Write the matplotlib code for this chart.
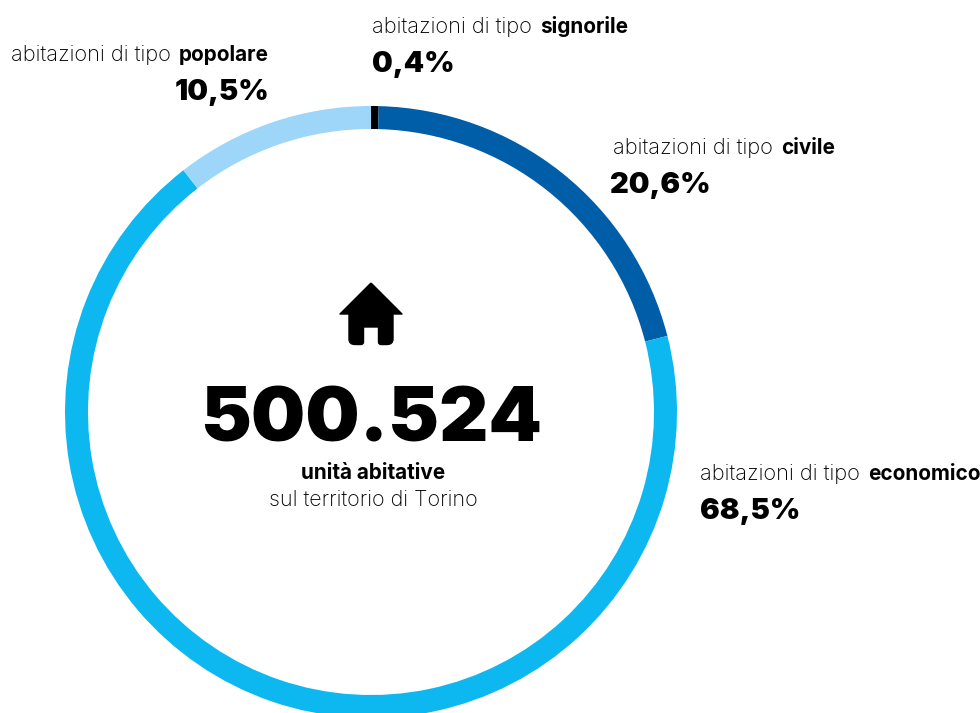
import matplotlib
matplotlib.use("Agg")
import matplotlib.pyplot as plt
from matplotlib.path import Path
from matplotlib.patches import PathPatch

categories = ["signorile", "civile", "economico", "popolare"]
shares = [0.4, 20.6, 68.5, 10.5]
share_labels = ["0,4%", "20,6%", "68,5%", "10,5%"]
colors = ["#000000", "#005da8", "#0db8f0", "#9dd6f8"]
total_label = "500.524"

W, H = 980, 713
FONT = "Inter"
LIGHT_SIZE = 15.7
BOLD_SIZE = 14.9
GAP = 8

fig = plt.figure(figsize=(W / 100, H / 100), dpi=100)
ax = fig.add_axes([0, 0, 1, 1])

# ring, clockwise from twelve o'clock
ax.pie(shares, colors=colors, startangle=90, counterclock=False,
       center=(371, H - 412), radius=306, frame=True,
       wedgeprops=dict(width=23, linewidth=0))
ax.set_xlim(0, W)
ax.set_ylim(0, H)
ax.set_aspect("equal")
ax.axis("off")


def put(x, y, s, **kw):
    return ax.text(x, H - y, s, family=FONT, color="black", va="baseline", **kw)


def text_width(t):
    return t.get_window_extent(fig.canvas.get_renderer()).width


# label made of a light part and a bold part, then the percentage under it
def label(x, y, name, pct, ha="left", pct_x=None):
    if pct_x is None:
        pct_x = x
    if ha == "left":
        t = put(x, y, "abitazioni di tipo", size=LIGHT_SIZE, weight="light")
        put(x + text_width(t) + GAP, y, name, size=BOLD_SIZE, weight="bold")
    else:
        t = put(x, y, name, size=BOLD_SIZE, weight="bold", ha="right")
        put(x - text_width(t) - GAP, y, "abitazioni di tipo", size=LIGHT_SIZE, weight="light", ha="right")
    put(pct_x, y + 39, pct, size=21, weight="black", ha=ha)


label(372, 33, categories[0], share_labels[0])
label(613, 154, categories[1], share_labels[1], pct_x=610)
label(700, 480, categories[2], share_labels[2])
label(269, 61, categories[3], share_labels[3], ha="right")

# house icon, bottom corners rounded with quadratic curves
L, C, M = Path.LINETO, Path.CURVE3, Path.MOVETO
house = [
    (371, 283, M), (402, 314, L), (393, 314, L), (393, 339, L),
    (393, 344.5, C), (387, 344.5, C), (381, 344.5, L),
    (378.5, 344.5, C), (378.5, 342, C), (378.5, 327, L), (363.5, 327, L), (363.5, 342, L),
    (363.5, 344.5, C), (361, 344.5, C), (355, 344.5, L),
    (349, 344.5, C), (349, 339, C), (349, 314, L), (340, 314, L), (371, 283, L),
]
ax.add_patch(PathPatch(Path([(p[0], H - p[1]) for p in house], [p[2] for p in house]),
                       fc="black", ec="black", lw=1, joinstyle="round"))

put(371, 442, total_label, size=55, weight="black", ha="center")
put(373, 479, "unità abitative", size=BOLD_SIZE, weight="bold", ha="center")
put(373, 506, "sul territorio di Torino", size=15.5, weight="light", ha="center")

fig.savefig("out.png", dpi=100, facecolor="white")
